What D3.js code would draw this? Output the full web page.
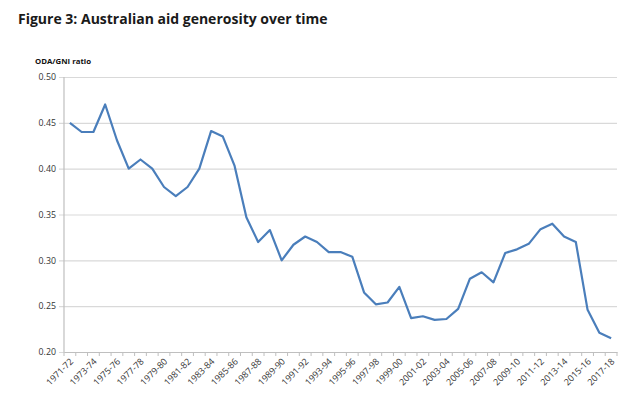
<html>
<head>
<style>
  body { margin: 0; background: #fff; }
  svg { display: block; }
  text { font-family: "Open Sans", Arial, sans-serif; }
</style>
<script src="https://cdn.jsdelivr.net/npm/d3@7"></script>
</head>
<body>
<svg id="chart"></svg>
<script>
// financial years on the category axis
const years = [
  "1971-72","1972-73","1973-74","1974-75","1975-76","1976-77","1977-78","1978-79",
  "1979-80","1980-81","1981-82","1982-83","1983-84","1984-85","1985-86","1986-87",
  "1987-88","1988-89","1989-90","1990-91","1991-92","1992-93","1993-94","1994-95",
  "1995-96","1996-97","1997-98","1998-99","1999-00","2000-01","2001-02","2002-03",
  "2003-04","2004-05","2005-06","2006-07","2007-08","2008-09","2009-10","2010-11",
  "2011-12","2012-13","2013-14","2014-15","2015-16","2016-17","2017-18"
];
// ODA/GNI ratio
const odaGni = [
  0.450, 0.440, 0.440, 0.470, 0.431, 0.400, 0.410, 0.400,
  0.380, 0.370, 0.380, 0.400, 0.441, 0.435, 0.403, 0.347,
  0.320, 0.333, 0.300, 0.317, 0.326, 0.320, 0.309, 0.309,
  0.304, 0.265, 0.252, 0.254, 0.271, 0.237, 0.239, 0.235,
  0.236, 0.247, 0.280, 0.287, 0.276, 0.308, 0.312, 0.318,
  0.334, 0.340, 0.326, 0.320, 0.246, 0.221, 0.215
];
const yTicks = [0.20, 0.25, 0.30, 0.35, 0.40, 0.45, 0.50];

let width = 640, height = 410;
let margin = {top: 77, left: 64, right: 23, bottom: 58};

let svg = d3.select("#chart").attr("width", width).attr("height", height);

let xScale = d3.scaleBand()
  .domain(years)
  .range([margin.left, width - margin.right])
  .padding(0);

let yScale = d3.scaleLinear()
  .domain([0.20, 0.50])
  .range([height - margin.bottom, margin.top]);

// title
svg.append("text")
  .attr("x", 18).attr("y", 24)
  .attr("font-size", 14).attr("font-weight", "bold")
  .attr("fill", "#1a1a1a")
  .text("Figure 3: Australian aid generosity over time");

svg.append("text")
  .attr("x", 35).attr("y", 64)
  .attr("font-size", 7.8).attr("font-weight", "bold")
  .attr("fill", "#111")
  .text("ODA/GNI ratio");

// gridlines + y axis
let axisY = d3.axisLeft(yScale)
  .tickValues(yTicks)
  .tickFormat(d3.format(".2f"))
  .tickSize(-(width - margin.right - margin.left))
  .tickSizeOuter(0);

let gy = svg.append("g")
  .attr("transform", `translate(${margin.left},0)`)
  .call(axisY);
gy.select(".domain").remove();
gy.selectAll(".tick line")
  .attr("x1", -5)
  .attr("stroke", "#d9d9d9").attr("stroke-width", 1.2);
gy.selectAll(".tick text")
  .attr("x", -8)
  .attr("font-size", 8.8)
  .attr("fill", "#333")
  .style("font-family", "'Open Sans', Arial, sans-serif");

// vertical axis line
svg.append("line")
  .attr("x1", margin.left).attr("x2", margin.left)
  .attr("y1", yScale(0.50)).attr("y2", yScale(0.20))
  .attr("stroke", "#bfbfbf").attr("stroke-width", 1.2);

// x axis: ticks between categories, labels every second year
let axisX = d3.axisBottom(xScale)
  .tickValues(years.filter((d, i) => i % 2 === 0))
  .tickSize(0)
  .tickSizeOuter(0);

let gx = svg.append("g")
  .attr("transform", `translate(0,${yScale(0.20)})`)
  .call(axisX);
gx.select(".domain")
  .attr("stroke", "#bfbfbf").attr("stroke-width", 1.2);
gx.selectAll(".tick text")
  .attr("y", 0).attr("dy", 0)
  .attr("text-anchor", "end")
  .attr("transform", "translate(4,10) rotate(-45)")
  .attr("font-size", 9)
  .attr("fill", "#333")
  .style("font-family", "'Open Sans', Arial, sans-serif");

// category boundary tick marks
let bounds = years.map(d => xScale(d)).concat([xScale.range()[1]]);
svg.append("g").selectAll("line")
  .data(bounds)
  .enter().append("line")
  .attr("x1", d => d).attr("x2", d => d)
  .attr("y1", yScale(0.20)).attr("y2", yScale(0.20) + 4)
  .attr("stroke", "#bfbfbf").attr("stroke-width", 1);

// the line
let line = d3.line()
  .x((d, i) => xScale(years[i]) + xScale.bandwidth() / 2)
  .y(d => yScale(d));

svg.append("path")
  .datum(odaGni)
  .attr("d", line)
  .attr("fill", "none")
  .attr("stroke", "#4a7ebb")
  .attr("stroke-width", 2.2)
  .attr("stroke-linejoin", "round");
</script>
</body>
</html>
